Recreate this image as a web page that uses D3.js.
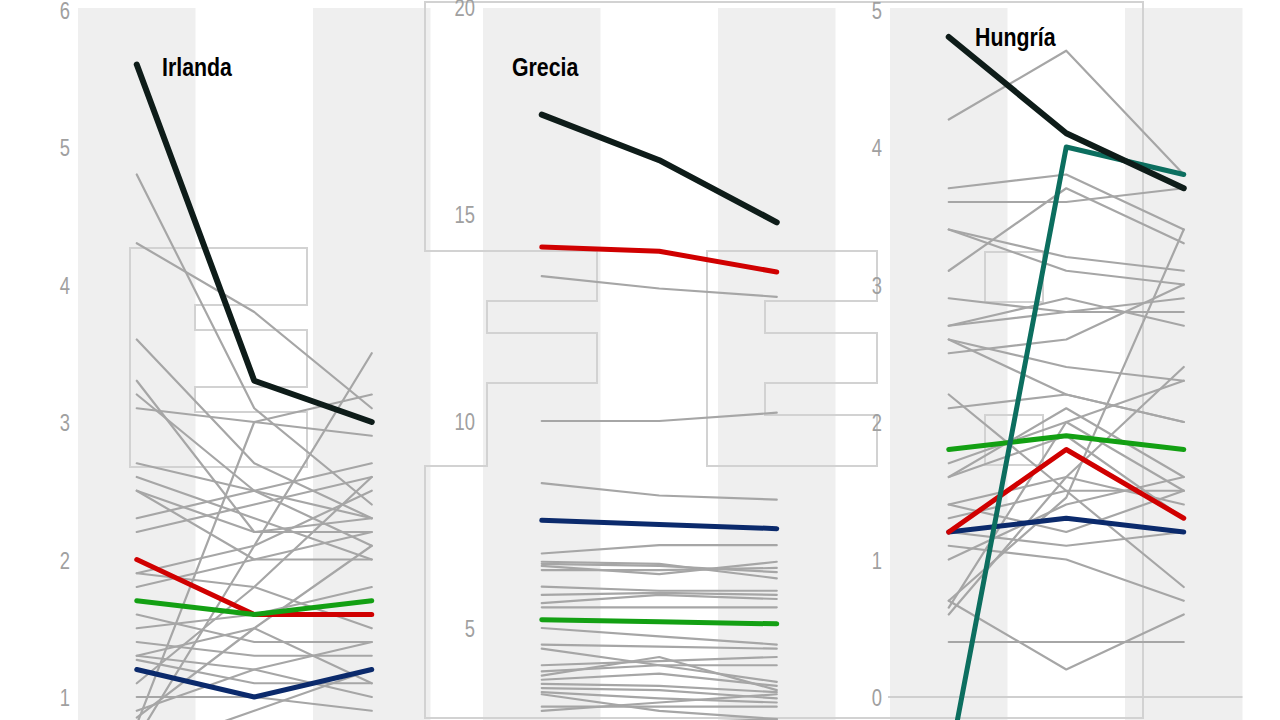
<!DOCTYPE html>
<html><head><meta charset="utf-8">
<script src="https://cdn.jsdelivr.net/npm/d3@7"></script>
<style>html,body{margin:0;padding:0;background:#fff;overflow:hidden}svg{display:block}</style>
</head><body><svg id="c" width="1280" height="720"></svg>
<script>
// ---------- DATA ----------
const periods = ["P1", "P2", "P3"];
const countries = ["Irlanda", "Grecia", "Hungría"];
const yDomains = [[1, 6], [5, 20], [0, 5]];
const yTicks = [[1, 2, 3, 4, 5, 6], [5, 10, 15, 20], [0, 1, 2, 3, 4, 5]];

// highlighted country line (black)
const countryValues = [[5.6, 3.3, 3.0], [17.4, 16.3, 14.8], [4.8, 4.1, 3.7]];
// reference lines
const redValues   = [[2.0, 1.6, 1.6], [14.2, 14.1, 13.6], [1.2, 1.8, 1.3]];
const greenValues = [[1.7, 1.6, 1.7], [5.2, 5.15, 5.1], [1.8, 1.9, 1.8]];
const blueValues  = [[1.2, 1.0, 1.2], [7.6, 7.5, 7.4], [1.2, 1.3, 1.2]];
const tealValues  = [null, null, [-0.5, 4.0, 3.8]];

// other countries (grey)
const irlandaOthers = [
  [4.8, 3.1, 2.4], [4.3, 3.8, 3.1], [3.6, 2.7, 2.3], [3.3, 2.2, 2.3],
  [3.2, 2.5, 2.1], [3.1, 3.0, 3.2], [0.8, 3.0, 2.9], [2.7, 2.5, 2.3],
  [2.6, 2.3, 2.0], [2.5, 2.2, 2.2], [2.3, 2.5, 2.7], [2.2, 2.4, 2.6],
  [1.9, 2.1, 2.5], [1.8, 2.0, 2.2], [1.5, 1.6, 1.8], [1.4, 1.3, 1.3],
  [1.3, 1.2, 1.0], [1.27, 1.1, 1.1], [1.1, 1.8, 2.6], [1.0, 1.0, 0.9],
  [0.85, 1.5, 2.1], [0.7, 2.1, 3.5], [1.6, 1.4, 1.4], [1.9, 1.8, 1.5],
  [0.9, 1.2, 1.4], [0.6, 0.9, 1.2], [1.3, 1.5, 1.1], [2.5, 2.0, 2.0]
];
const greciaOthers = [
  [13.5, 13.2, 13.0], [10.0, 10.0, 10.2], [8.5, 8.2, 8.1], [6.8, 7.0, 7.0],
  [6.6, 6.55, 6.2], [6.55, 6.5, 6.35], [6.5, 6.3, 6.6], [6.4, 6.4, 6.45],
  [6.0, 5.9, 5.9], [5.8, 5.85, 5.8], [5.6, 5.8, 5.7], [5.5, 5.5, 5.5],
  [5.0, 4.8, 4.6], [4.6, 4.55, 4.5], [4.5, 4.1, 3.7], [4.1, 4.2, 4.3],
  [3.95, 4.1, 4.1], [3.85, 4.3, 3.5], [3.75, 3.9, 3.6], [3.65, 3.6, 3.45],
  [3.55, 3.5, 3.3], [3.45, 3.3, 3.2], [3.1, 3.1, 3.1], [3.4, 3.0, 2.8],
  [3.0, 3.2, 3.4], [2.6, 2.7, 2.8]
];
const hungriaOthers = [
  [4.2, 4.7, 3.8], [3.7, 3.8, 3.4], [3.6, 3.6, 3.7], [3.1, 3.7, 3.3],
  [3.4, 3.2, 3.1], [3.4, 3.1, 3.0], [2.9, 2.8, 2.8], [2.7, 2.8, 2.9],
  [2.6, 2.4, 2.3], [2.5, 2.6, 3.0], [2.7, 2.9, 2.7], [2.6, 2.2, 2.0],
  [2.2, 1.5, 0.8], [2.1, 2.2, 2.0], [1.7, 2.0, 1.5], [1.6, 2.1, 1.6],
  [1.4, 1.6, 1.4], [1.3, 1.5, 1.5], [1.2, 1.1, 1.2], [1.1, 1.0, 0.7],
  [1.0, 1.4, 1.6], [0.7, 1.45, 3.4], [0.7, 0.2, 0.6], [0.6, 1.6, 2.4],
  [0.65, 2.0, 2.3], [0.4, 0.4, 0.4], [1.6, 1.9, 1.3], [1.4, 1.2, 1.5]
];
const othersByCountry = [irlandaOthers, greciaOthers, hungriaOthers];

// ---------- LAYOUT ----------
const layout = {
  panelX: [78, 483, 890], panelW: 352.5, top: 8, bottom: 720,
  yRanges: [[697, 9.5], [628, 7], [697, 9.5]],
  labelPos: [[162, 67], [512, 67], [975, 37]],
  tickNarrow: 0.8, labelNarrow: 0.82,
  font: "'Liberation Sans',Arial,sans-serif"
};
const colors = { band: "#efefef", grey: "#a6a6a6", black: "#0e1c19", red: "#d00000",
  green: "#13a013", blue: "#0b2a6c", teal: "#0c6e5f", tick: "#a0a0a0", ghost: "#d2d2d2", zero: "#cfcfcf" };
// faint ghost outlines visible in the reference (decoration, pixel space)
const ghostPaths = [
  "M130,248H307V305H195V330H307V387H195V412H307V467H130Z",
  "M425,718V466H487V383H597V333H487V301H597V251H425V2H1143V718Z",
  "M707,251H877V301H765V333H877V383H765V415H877V466H707Z",
  "M985,252H1043V302H985Z", "M985,415H1043V465H985Z"
];

// ---------- DRAW ----------
const svg = d3.select("#c");
const gBands = svg.append("g"), gGhost = svg.append("g"), gPanels = svg.append("g");

countries.forEach((name, i) => {
  const x = d3.scaleBand().domain(periods).range([layout.panelX[i], layout.panelX[i] + layout.panelW]).padding(0);
  const y = d3.scaleLinear().domain(yDomains[i]).range(layout.yRanges[i]);
  const cx = p => x(p) + x.bandwidth() / 2;

  gBands.selectAll(null).data(periods.filter((_, k) => k !== 1)).enter().append("rect")
    .attr("x", d => x(d)).attr("width", x.bandwidth())
    .attr("y", layout.top).attr("height", layout.bottom - layout.top)
    .attr("fill", colors.band);

  const g = gPanels.append("g");
  // y axis tick labels
  const axis = d3.axisLeft(y).tickValues(yTicks[i]).tickSize(0).tickPadding(0).tickFormat(d3.format("d"));
  const ax = g.append("g").attr("transform", `translate(${layout.panelX[i] - 8},0)`).call(axis);
  ax.select(".domain").remove();
  ax.selectAll("text").attr("fill", colors.tick).attr("font-size", 23)
    .attr("font-family", layout.font).attr("x", 0).attr("dy", "0.37em")
    .attr("transform", `scale(${layout.tickNarrow},1)`);

  if (yDomains[i][0] <= 0 && yDomains[i][1] >= 0) {
    g.append("line").attr("x1", layout.panelX[i] - 2).attr("x2", layout.panelX[i] + layout.panelW)
      .attr("y1", y(0)).attr("y2", y(0)).attr("stroke", colors.zero).attr("stroke-width", 2);
  }

  const line = d3.line().x((d, k) => cx(periods[k])).y(d => y(d));
  const draw = (vals, color, w) => {
    if (!vals) return;
    g.append("path").attr("d", line(vals)).attr("fill", "none").attr("stroke", color)
      .attr("stroke-width", w).attr("stroke-linejoin", "round").attr("stroke-linecap", "round");
  };
  othersByCountry[i].forEach(v => draw(v, colors.grey, 2.2));
  draw(blueValues[i], colors.blue, 5);
  draw(redValues[i], colors.red, 5);
  draw(greenValues[i], colors.green, 5);
  draw(tealValues[i], colors.teal, 5);
  draw(countryValues[i], colors.black, 6);

  g.append("g").attr("transform", `translate(${layout.labelPos[i][0]},${layout.labelPos[i][1]}) scale(${layout.labelNarrow},1)`)
    .append("text").attr("dy", "0.36em").attr("font-family", layout.font).attr("font-weight", "bold")
    .attr("font-size", 26).attr("fill", "#000").text(name);
});

gGhost.selectAll("path").data(ghostPaths).enter().append("path").attr("d", d => d)
  .attr("fill", "none").attr("stroke", colors.ghost).attr("stroke-width", 2);
</script></body></html>
